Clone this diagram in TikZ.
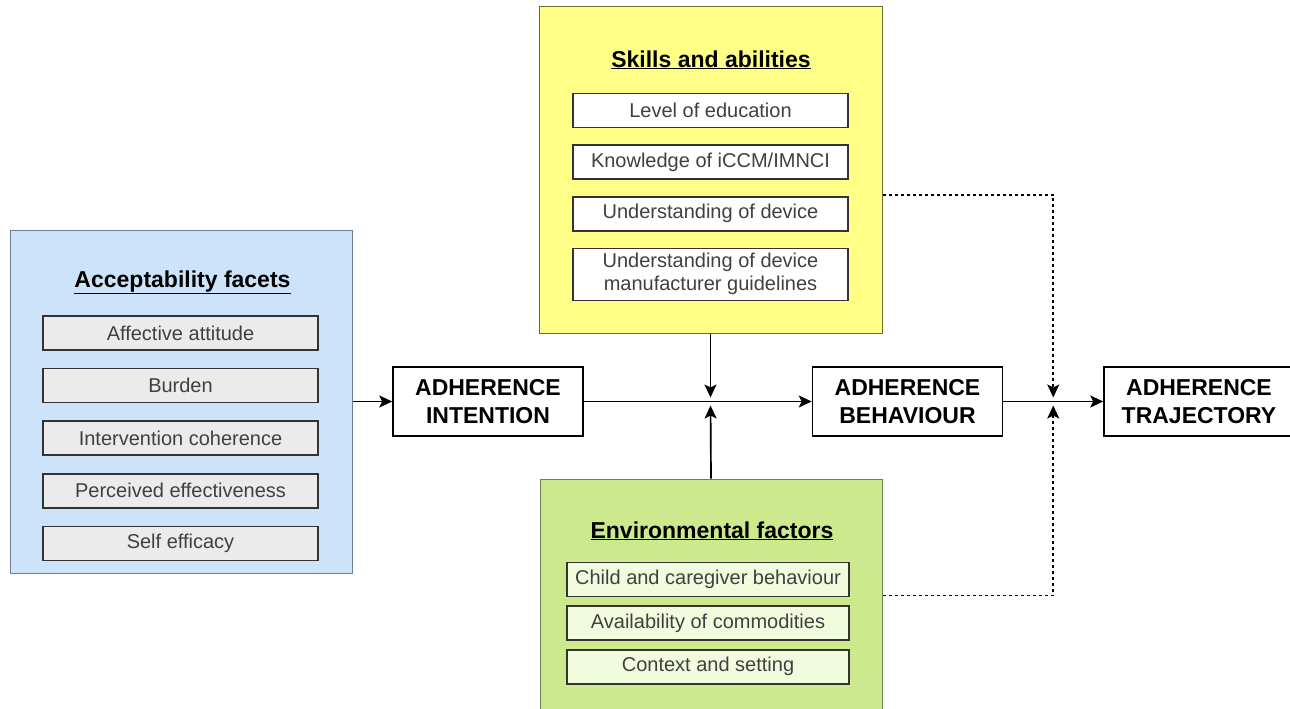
\documentclass[tikz,border=0pt]{standalone}
\usepackage{fontspec}
\setmainfont{Liberation Sans}
\usetikzlibrary{arrows.meta,
							calc, chains,
							positioning}

\definecolor{accblue}{HTML}{CCE3FA}
\definecolor{accline}{HTML}{6E7F94}
\definecolor{skyell}{HTML}{FFFF88}
\definecolor{skline}{HTML}{6B6B2E}
\definecolor{envgreen}{HTML}{CDE98D}
\definecolor{envline}{HTML}{6F7F55}
\definecolor{envitem}{HTML}{F1FCDF}
\definecolor{itemtext}{HTML}{404040}

\begin{document}
\begin{tikzpicture}[x=1pt, y=-1pt,
	font=\fontsize{20}{23}\selectfont,
		base/.style = {draw, align=center, inner sep=0pt},
	 panel/.style = {base, line width=1pt},
		item/.style = {base, draw=black!80, line width=1.6pt, text=itemtext,
									 minimum width=275pt, minimum height=34pt, on chain},
	 title/.style = {anchor=base, font=\fontsize{23}{26}\selectfont\bfseries},
	 stage/.style = {base, line width=1.5pt, minimum width=190pt, minimum height=69pt,
									 font=\fontsize{23}{28}\selectfont\bfseries},
		link/.style = {line width=1.7pt, -{Stealth[length=13pt,width=12pt,inset=3pt]}},
	 joint/.style = {link, shorten >=4pt},
 dotline/.style = {dash pattern=on 3pt off 3pt}]

\useasboundingbox (0,0) rectangle (1290,709);
\clip (0,0) rectangle (1290,709);

% panels
\node [panel, fill=accblue, draw=accline,
			 minimum width=342pt, minimum height=343pt] (acc) at (181,401.5) {};
\node [panel, fill=skyell, draw=skline,
			 minimum width=343pt, minimum height=326pt] (skl) at (710.5,170) {};
\node [panel, fill=envgreen, draw=envline,
			 minimum width=342pt, minimum height=233pt] (env) at (711,595.5) {};

\node [title] (acc-t) at (182.5,287) {\underline{Acceptability facets}};
\node [title] (skl-t) at (711,67)   {\underline{Skills and abilities}};
\node [title] (env-t) at (712,538)  {\underline{Environmental factors}};

\begin{scope}[node distance=17pt, start chain=A going below]
\node [item, fill=black!8] at (180.5,333) {Affective attitude};   % <-- A-1
\node [item, fill=black!8]  {Burden};
\node [item, fill=black!8]  {Intervention coherence};
\node [item, fill=black!8]  {Perceived effectiveness};
\node [item, fill=black!8]  {Self efficacy};                       % <-- A-5
\end{scope}

\begin{scope}[node distance=16pt, start chain=S going below]
\node [item, fill=white] at (710.5,110.5) {Level of education};   % <-- S-1
\node [item, fill=white]  {Knowledge of iCCM/IMNCI};
\node [item, fill=white]  {Understanding of device};
\node [item, fill=white, minimum height=52pt]
			{Understanding of device\\manufacturer guidelines};         % <-- S-4
\end{scope}

\begin{scope}[node distance=8pt, start chain=E going below]
\node [item, fill=envitem, minimum width=282pt]
			at (708,579.5) {Child and caregiver behaviour};            % <-- E-1
\node [item, fill=envitem, minimum width=282pt] {Availability of commodities};
\node [item, fill=envitem, minimum width=282pt] {Context and setting};
\end{scope}

% stages
\node [stage] (int)  at (488,401.5)   {ADHERENCE\\INTENTION};
\node [stage] (beh)  at (907.5,401.5) {ADHERENCE\\BEHAVIOUR};
\node [stage] (traj) at (1199,401.5)  {ADHERENCE\\TRAJECTORY};
%
\coordinate (J1) at (skl.south |- int.east);
\coordinate (J2) at ($(beh.east)!0.5!(traj.west)$);
%%
\draw [link] (acc.east |- int.west) -- (int.west);
\draw [link] (int.east) -- (beh.west);
\draw [link] (beh.east) -- (traj.west);
\draw [joint] (skl.south) -- (J1);
\draw [joint] (env.north) -- (J1);
\draw [joint, dotline] ([yshift=-25pt]skl.east) -| (J2);
\draw [joint, dotline] (env.east) -| (J2);
\end{tikzpicture}
\end{document}
